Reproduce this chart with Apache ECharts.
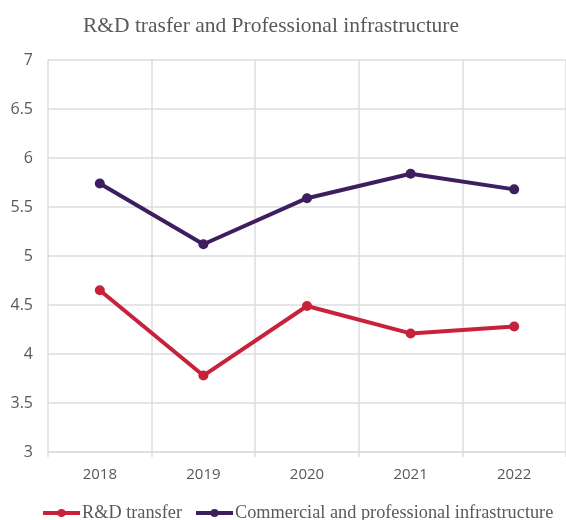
<!DOCTYPE html>
<html>
<head>
<meta charset="utf-8">
<script src="https://cdn.jsdelivr.net/npm/echarts@6/dist/echarts.min.js"></script>
<style>
  html, body { margin: 0; padding: 0; background: #fff; }
  #chart { width: 566px; height: 520px; }
</style>
</head>
<body>
<div id="chart"></div>
<script>
// Yearly scores for the two indicator groups
const years = ['2018', '2019', '2020', '2021', '2022'];
const rdTransfer = [4.65, 3.78, 4.49, 4.21, 4.28];
const commercialInfra = [5.74, 5.12, 5.59, 5.84, 5.68];
const yTicks = [3, 3.5, 4, 4.5, 5, 5.5, 6, 6.5, 7];

const RED = '#C8223A';
const PURPLE = '#3D1F60';
const TEXT = '#595959';
const GRID = '#DDDDDD';

const chart = echarts.init(document.getElementById('chart'));

function lineSeries(name, data, color) {
  return {
    name: name,
    type: 'line',
    data: data,
    symbol: 'circle',
    symbolSize: 10,
    lineStyle: { color: color, width: 4 },
    itemStyle: { color: color },
    emphasis: { disabled: true }
  };
}

chart.setOption({
  animation: false,
  title: {
    text: 'R&D trasfer and Professional infrastructure',
    left: 266,
    textAlign: 'center',
    top: 10,
    textStyle: {
      fontFamily: 'Liberation Serif',
      fontWeight: 'normal',
      fontSize: 21.5,
      color: TEXT
    }
  },
  legend: {
    top: 499,
    left: 36,
    itemWidth: 37,
    itemHeight: 10,
    itemGap: 12,
    lineStyle: { width: 4 },
    textStyle: {
      fontFamily: 'Liberation Serif',
      fontSize: 18.3,
      color: TEXT,
      padding: [0, 0, 0, -3]
    },
    data: ['R&D transfer', 'Commercial and professional infrastructure']
  },
  grid: {
    left: 48,
    top: 60,
    width: 522,
    height: 392,
    containLabel: false
  },
  xAxis: {
    type: 'category',
    data: years,
    boundaryGap: true,
    axisLine: { show: true, lineStyle: { color: GRID, width: 1.5 } },
    axisTick: { show: true, length: 5, lineStyle: { color: GRID, width: 1.5 } },
    splitLine: { show: true, lineStyle: { color: GRID, width: 1.5 } },
    axisLabel: {
      margin: 15,
      fontFamily: 'Open Sans',
      fontSize: 15,
      color: TEXT
    }
  },
  yAxis: {
    type: 'value',
    min: yTicks[0],
    max: yTicks[yTicks.length - 1],
    interval: 0.5,
    axisLine: { show: false },
    axisTick: { show: false },
    splitLine: { show: true, lineStyle: { color: GRID, width: 1.5 } },
    axisLabel: {
      margin: 15,
      fontFamily: 'Open Sans',
      fontSize: 16,
      color: TEXT
    }
  },
  series: [
    lineSeries('R&D transfer', rdTransfer, RED),
    lineSeries('Commercial and professional infrastructure', commercialInfra, PURPLE)
  ]
});
</script>
</body>
</html>
